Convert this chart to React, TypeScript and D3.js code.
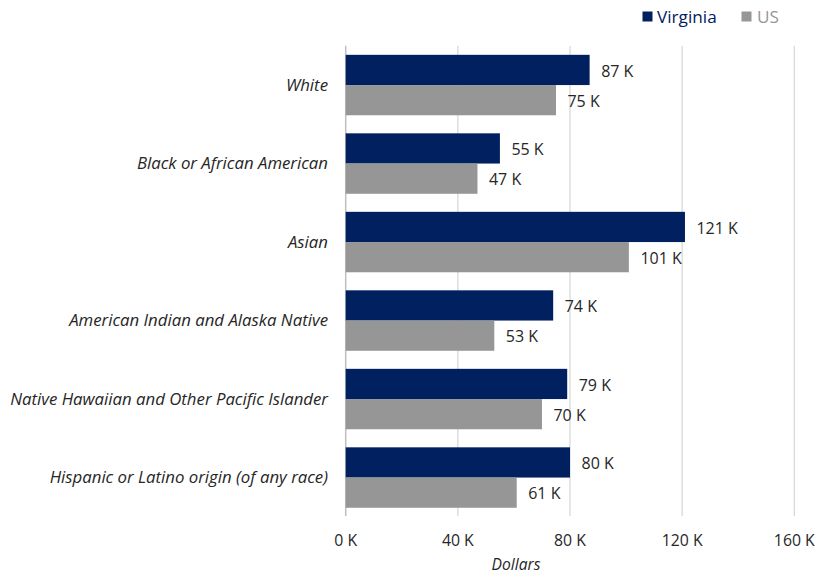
import React from "react";
import * as d3 from "d3";

const categories = [
  "White",
  "Black or African American",
  "Asian",
  "American Indian and Alaska Native",
  "Native Hawaiian and Other Pacific Islander",
  "Hispanic or Latino origin (of any race)",
];
const virginia = [87, 55, 121, 74, 79, 80];
const us = [75, 47, 101, 53, 70, 61];
const xTicks = [0, 40, 80, 120, 160];
const seriesNames = ["Virginia", "US"];
const colors = ["#002060", "#969696"];

const W = 818;
const H = 575;
const FONT = "'Open Sans', 'DejaVu Sans', sans-serif";

export default function App() {
  const x = d3.scaleLinear().domain([0, 160]).range([345.7, 794.3]);
  const y = d3
    .scaleBand<string>()
    .domain(categories)
    .range([45.8, 516.8])
    .paddingInner(0.23)
    .paddingOuter(0.115);
  const sub = d3.scaleBand<string>().domain(seriesNames).range([0, y.bandwidth()]);
  const series = [virginia, us];
  const plotTop = 45.8;
  const plotBottom = 516;

  return (
    <svg width={W} height={H} style={{ position: "absolute", left: 0, top: 0, background: "#fff" }}>
      {xTicks.map((t) => (
        <line
          key={"g" + t}
          x1={x(t)}
          x2={x(t)}
          y1={plotTop}
          y2={plotBottom}
          stroke={t === 0 ? "#bfbfbf" : "#d9d9d9"}
          strokeWidth={t === 0 ? 1.5 : 1.3}
        />
      ))}
      {categories.map((c, i) =>
        series.map((s, j) => (
          <rect
            key={c + j}
            x={x(0)}
            y={(y(c) as number) + (sub(seriesNames[j]) as number)}
            width={x(s[i]) - x(0)}
            height={sub.bandwidth()}
            fill={colors[j]}
          />
        ))
      )}
      {categories.map((c, i) =>
        series.map((s, j) => (
          <text
            key={"l" + c + j}
            x={x(s[i]) + 11.5}
            y={(y(c) as number) + (sub(seriesNames[j]) as number) + sub.bandwidth() / 2 + 1}
            dy="0.35em"
            fontFamily={FONT}
            fontSize={16}
            fill="#262626"
          >
            {s[i]} K
          </text>
        ))
      )}
      {categories.map((c) => (
        <text
          key={"c" + c}
          x={328}
          y={(y(c) as number) + y.bandwidth() / 2}
          dy="0.35em"
          textAnchor="end"
          fontFamily={FONT}
          fontStyle="italic"
          fontSize={16.8}
          fill="#262626"
        >
          {c}
        </text>
      ))}
      {xTicks.map((t) => (
        <text
          key={"t" + t}
          x={x(t)}
          y={540}
          dy="0.35em"
          textAnchor="middle"
          fontFamily={FONT}
          fontSize={15.8}
          fill="#262626"
        >
          {t} K
        </text>
      ))}
      <text
        x={516}
        y={565}
        dy="0.35em"
        textAnchor="middle"
        fontFamily={FONT}
        fontStyle="italic"
        fontSize={15.6}
        fill="#262626"
      >
        Dollars
      </text>
      <rect x={642.5} y={11.5} width={10} height={10} fill={colors[0]} />
      <text x={657} y={16.5} dy="0.35em" fontFamily={FONT} fontSize={17.2} fill={colors[0]}>
        Virginia
      </text>
      <rect x={741.5} y={11.5} width={10} height={10} fill={colors[1]} />
      <text x={757} y={16.5} dy="0.35em" fontFamily={FONT} fontSize={17.2} fill={colors[1]}>
        US
      </text>
    </svg>
  );
}
